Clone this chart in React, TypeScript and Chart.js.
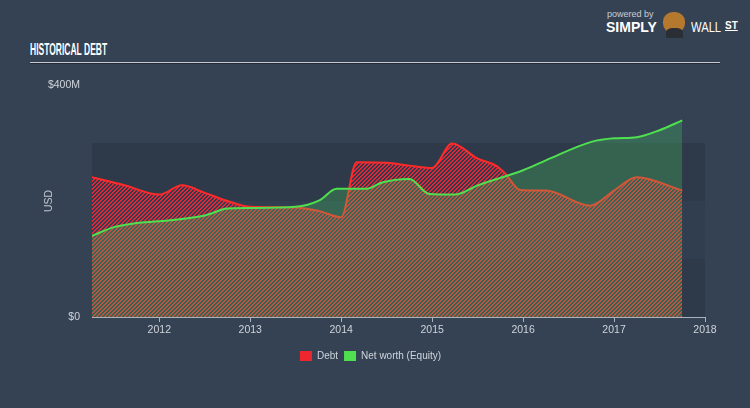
import React, { useEffect, useRef } from "react";
import { Chart, registerables } from "chart.js";

Chart.register(...registerables);

// Debt (USD millions) sampled at decimal-year dates
const debtDates = [2011.26, 2011.6, 2012.0, 2012.25, 2012.5, 2012.75, 2013.0, 2013.5, 2013.75, 2014.0, 2014.17, 2014.5, 2014.75, 2015.0, 2015.22, 2015.5, 2015.7, 2015.8, 2015.97, 2016.25, 2016.74, 2017.0, 2017.25, 2017.75];
const debtValues = [241, 228, 211, 227, 214, 200, 190, 189, 183, 172, 267, 266, 261, 257, 299, 273, 261, 248, 219, 218, 192, 218, 241, 218];

// Net worth (Equity) (USD millions)
const equityDates = [2011.26, 2011.5, 2011.75, 2012.0, 2012.5, 2012.75, 2013.0, 2013.5, 2013.76, 2013.95, 2014.28, 2014.45, 2014.75, 2014.97, 2015.25, 2015.5, 2016.0, 2016.25, 2016.75, 2017.0, 2017.25, 2017.5, 2017.75];
const equityValues = [140, 155, 162, 165, 175, 187, 188, 190, 201, 221, 221, 232, 238, 212, 211, 227, 253, 270, 302, 308, 310, 322, 339];

const xTickYears = [2012, 2013, 2014, 2015, 2016, 2017, 2018];
const yTickValues = [0, 400];
const yTickLabels = ["$0", "$400M"];
const bandRanges = [
  [0, 100],
  [100, 200],
  [200, 300],
];
const seriesNames = ["Debt", "Net worth (Equity)"];

const BG = "#344254";

function makeHatch(color: string) {
  const c = document.createElement("canvas");
  c.width = 4;
  c.height = 4;
  const g = c.getContext("2d")!;
  for (let x = 0; x < 4; x++) {
    for (let y = 0; y < 4; y++) {
      const k = (x + y) % 4;
      if (k === 0 || k === 1) {
        g.fillStyle = color;
        g.fillRect(x, y, 1, 1);
      }
    }
  }
  return g.createPattern(c, "repeat") as CanvasPattern;
}

const bandsPlugin = {
  id: "bands",
  beforeDatasetsDraw(chart: any) {
    const { ctx, chartArea, scales } = chart;
    const xs = scales.x;
    const ys = scales.y;
    const left = xs.getPixelForValue(debtDates[0]);
    const right = chartArea.right;
    const cols = ["#2e3a4a", "#313e4f", "#2e3a4a"];
    ctx.save();
    bandRanges.forEach((r, i) => {
      const y1 = ys.getPixelForValue(r[1]);
      const y0 = ys.getPixelForValue(r[0]);
      ctx.fillStyle = cols[i];
      ctx.fillRect(left, y1, right - left, y0 - y1);
    });
    ctx.restore();
  },
};

const legendShiftPlugin = {
  id: "legendShift",
  afterLayout(chart: any) {
    const lg = chart.legend;
    if (lg) {
      lg.left += 18;
      lg.right += 18;
    }
  },
};

export default function App() {
  const ref = useRef<HTMLCanvasElement>(null);
  useEffect(() => {
    document.body.style.margin = "0";
    document.body.style.background = BG;
    const canvas = ref.current!;
    const hatch = makeHatch("#e0283a");
    const chart = new Chart(canvas, {
      type: "line",
      data: {
        datasets: [
          {
            label: seriesNames[0],
            data: debtDates.map((d, i) => ({ x: d, y: debtValues[i] })),
            borderColor: "#ff2a2a",
            backgroundColor: hatch,
            borderWidth: 2,
            pointRadius: 0,
            fill: "origin",
            cubicInterpolationMode: "monotone",
            order: 1,
          },
          {
            label: seriesNames[1],
            data: equityDates.map((d, i) => ({ x: d, y: equityValues[i] })),
            borderColor: "#4fe04f",
            backgroundColor: "rgba(76,217,100,0.26)",
            borderWidth: 2,
            pointRadius: 0,
            fill: "origin",
            cubicInterpolationMode: "monotone",
            order: 0,
          },
        ],
      },
      options: {
        animation: false,
        responsive: false,
        maintainAspectRatio: false,
        layout: { padding: { left: 0, right: 45, top: 85, bottom: 37 } },
        plugins: {
          legend: {
            position: "bottom",
            labels: {
              color: "#d0d4da",
              boxWidth: 12,
              boxHeight: 10,
              padding: 6,
              font: { family: "Liberation Sans", size: 10 },
              sort: (a: any, b: any) => a.datasetIndex - b.datasetIndex,
              generateLabels: (ch: any) =>
                ch.data.datasets.map((ds: any, i: number) => ({
                  text: ds.label,
                  fillStyle: i === 0 ? "#f0262e" : "#4fe04f",
                  strokeStyle: "transparent",
                  lineWidth: 0,
                  datasetIndex: i,
                  fontColor: "#d0d4da",
                })),
            },
          },
          tooltip: { enabled: false },
        },
        scales: {
          x: {
            type: "linear",
            min: debtDates[0],
            max: xTickYears[xTickYears.length - 1],
            afterBuildTicks: (s: any) => {
              s.ticks = xTickYears.map((v) => ({ value: v }));
            },
            afterFit: (s: any) => {
              s.height = 28;
            },
            grid: {
              drawOnChartArea: false,
              drawTicks: true,
              tickLength: 5,
              color: "#aab2bb",
            },
            border: { display: true, color: "#aab2bb", width: 1 },
            ticks: {
              color: "#d0d4da",
              padding: 2,
              maxRotation: 0,
              font: { family: "Liberation Sans", size: 10.5 },
              callback: (v: any) => String(v),
            },
          },
          y: {
            min: yTickValues[0],
            max: yTickValues[yTickValues.length - 1],
            afterBuildTicks: (s: any) => {
              s.ticks = yTickValues.map((v) => ({ value: v }));
            },
            afterFit: (s: any) => {
              s.width = 92;
            },
            grid: { display: false, drawTicks: false },
            border: { display: false },
            ticks: {
              color: "#d0d4da",
              padding: 12,
              font: { family: "Liberation Sans", size: 10.5 },
              callback: (v: any) => yTickLabels[yTickValues.indexOf(v)] ?? "",
            },
            title: {
              display: true,
              text: "USD",
              color: "#c0c6cd",
              padding: { top: 43, bottom: 0 },
              font: { family: "Liberation Sans", size: 10.5 },
            },
          },
        },
      },
      plugins: [bandsPlugin, legendShiftPlugin],
    } as any);
    return () => chart.destroy();
  }, []);

  return (
    <div style={{ position: "relative", width: 750, height: 408, background: BG, overflow: "hidden", fontFamily: "Liberation Sans, sans-serif" }}>
      <div
        style={{
          position: "absolute",
          left: 30,
          top: 40,
          color: "#ffffff",
          fontFamily: "'Liberation Sans', sans-serif",
          fontWeight: 700,
          fontSize: 17,
          transform: "scaleX(0.5)",
          transformOrigin: "left top",
          whiteSpace: "nowrap",
          lineHeight: "20px",
        }}
      >
        HISTORICAL DEBT
      </div>
      <div style={{ position: "absolute", left: 30, top: 62, width: 690, height: 1, background: "#c3c9cf" }} />
      <div style={{ position: "absolute", left: 30, top: 63, width: 690, height: 1, background: "#222b36" }} />
      {/* logo */}
      <div style={{ position: "absolute", left: 607, top: 9, color: "#c9ced4", fontSize: 9, lineHeight: "10px", whiteSpace: "nowrap" }}>powered by</div>
      <div style={{ position: "absolute", left: 606, top: 19, color: "#ffffff", fontSize: 14, fontWeight: 700, lineHeight: "16px", whiteSpace: "nowrap" }}>SIMPLY</div>
      <div style={{ position: "absolute", left: 663, top: 12, width: 22, height: 21, borderRadius: "45%", background: "#b5782f" }} />
      <div style={{ position: "absolute", left: 666, top: 28, width: 17, height: 10, borderRadius: "40% 40% 0 0", background: "#2a2f36" }} />
      <div
        style={{
          position: "absolute",
          left: 691,
          top: 19,
          color: "#ffffff",
          fontSize: 14,
          fontWeight: 400,
          lineHeight: "16px",
          whiteSpace: "nowrap",
          transform: "scaleX(0.8)",
          transformOrigin: "left top",
        }}
      >
        WALL
      </div>
      <div style={{ position: "absolute", left: 725, top: 20, color: "#ffffff", fontSize: 10, fontWeight: 700, lineHeight: "12px", whiteSpace: "nowrap", textDecoration: "underline" }}>ST</div>
      <canvas ref={ref} width={750} height={408} style={{ position: "absolute", left: 0, top: 0, width: 750, height: 408 }} />
    </div>
  );
}
